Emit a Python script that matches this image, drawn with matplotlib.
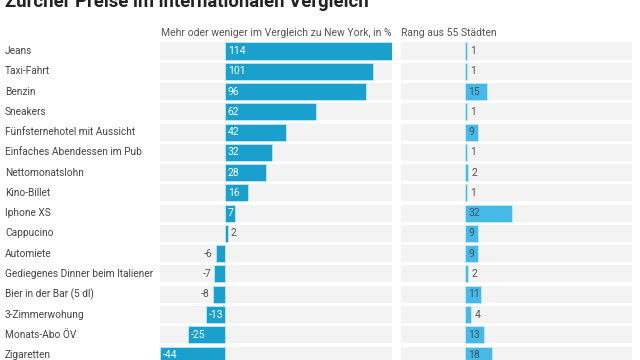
import matplotlib as mpl
mpl.use('Agg')
import matplotlib.pyplot as plt

plt.rcParams['font.family'] = ['Roboto', 'DejaVu Sans']

items = ["Jeans", "Taxi-Fahrt", "Benzin", "Sneakers", "Fünfsternehotel mit Aussicht",
         "Einfaches Abendessen im Pub", "Nettomonatslohn", "Kino-Billet", "Iphone XS",
         "Cappucino", "Automiete", "Gediegenes Dinner beim Italiener", "Bier in der Bar (5 dl)",
         "3-Zimmerwohung", "Monats-Abo ÖV", "Zigaretten"]
vs_ny = [114, 101, 96, 62, 42, 32, 28, 16, 7, 2, -6, -7, -8, -13, -25, -44]
rank = [1, 1, 15, 1, 9, 1, 2, 1, 32, 9, 9, 2, 11, 4, 13, 18]

title = "Zürcher Preise im internationalen Vergleich"
head_left = "Mehr oder weniger im Vergleich zu New York, in %"
head_right = "Rang aus 55 Städten"

W, H = 640, 360
fig = plt.figure(figsize=(W / 100, H / 100), dpi=100)

row_h = 20.27
top = 51 - row_h / 2
n = len(items)
span = n * row_h


def panel(x0, x1, values, color, in_color):
    ax = fig.add_axes([x0 / W, 1 - (top + span) / H, (x1 - x0) / W, span / H])
    lo, hi = -44, 114
    ys = range(n)
    ax.barh(ys, [hi - lo] * n, left=lo, height=0.84, color='#f3f3f3', lw=0)
    ax.barh(ys, values, height=0.84, color=color, edgecolor='#c9ecf8', lw=0.5)
    ax.set_xlim(lo, hi)
    ax.set_ylim(n - 0.5, -0.5)
    ax.axis('off')
    for y, v in zip(ys, values):
        s = str(v)
        if abs(v) >= 3.3 * len(s) + 2.5:
            ax.text(min(0, v) + 2.2, y, s, color=in_color, fontsize=7.5,
                    va='center', ha='left')
        elif v >= 0:
            ax.text(v + 2.2, y, s, color='#555555', fontsize=7.5, va='center', ha='left')
        else:
            ax.text(v - 2.2, y, s, color='#555555', fontsize=7.5, va='center', ha='right')
    return ax


panel(160, 392, vs_ny, '#1aa0cd', 'white')
panel(401, 632, rank, '#46b9e6', '#3b5560')

for i, name in enumerate(items):
    fig.text(5 / W, 1 - (51 + i * row_h) / H, name, fontsize=7.3, color='#444444',
             va='center', ha='left')

fig.text(161 / W, 1 - 33 / H, head_left, fontsize=7.5, color='#555555', va='center')
fig.text(401 / W, 1 - 33 / H, head_right, fontsize=7.5, color='#555555', va='center')
fig.text(5 / W, 1 - 7 / H, title, fontsize=13.3, fontweight='bold', color='#222222',
         va='baseline', ha='left')

fig.savefig('out.png', dpi=100)
